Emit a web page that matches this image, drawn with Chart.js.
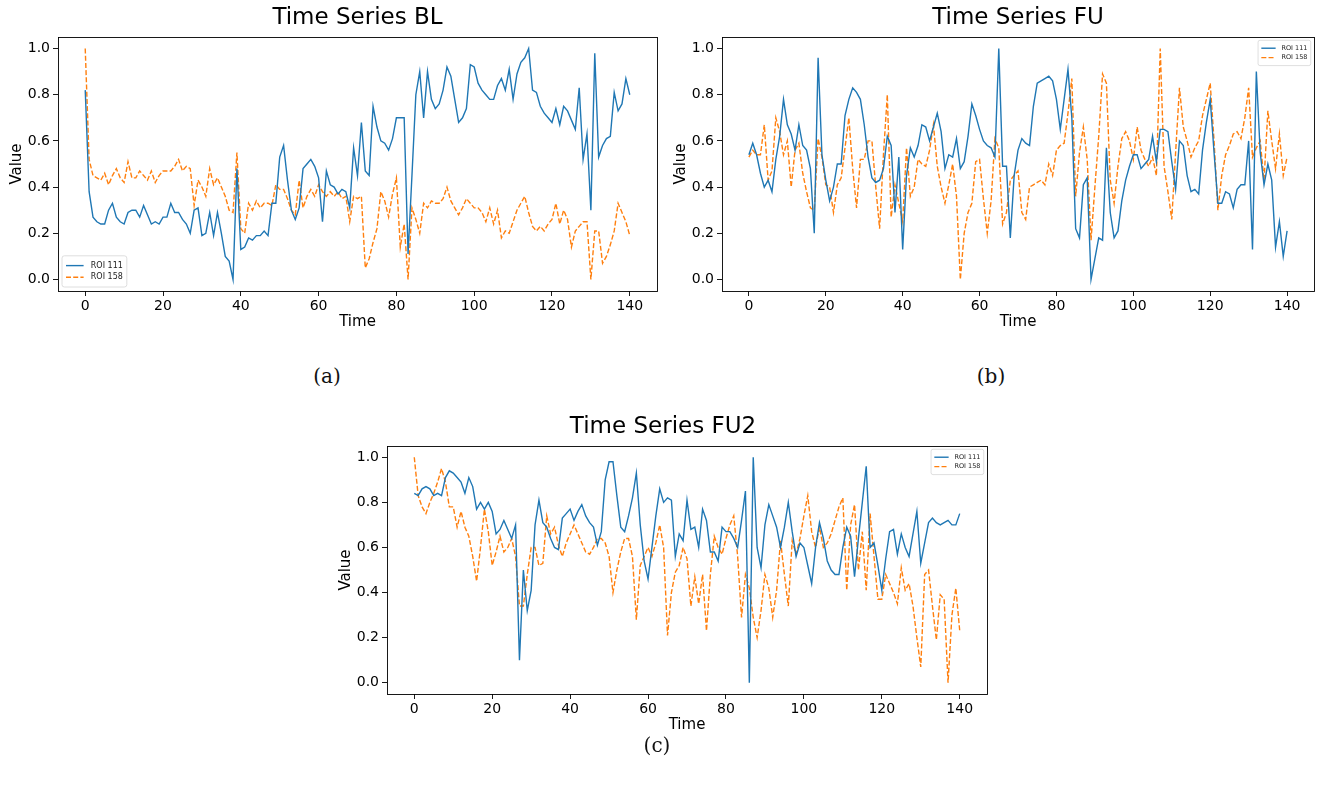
<!DOCTYPE html>
<html>
<head>
<meta charset="utf-8">
<script src="https://cdn.jsdelivr.net/npm/chart.js@4.4.1/dist/chart.umd.min.js"></script>
<style>
  body { margin: 0; background: #fff; width: 1317px; height: 788px; position: relative; overflow: hidden; }
  .panel { position: absolute; }
  .cap { position: absolute; font-family: 'DejaVu Serif', serif; font-size: 20px; color: #111; transform: translateX(-50%); }
</style>
</head>
<body>
<div class="panel" style="left:0;top:0;width:670px;height:331px"><canvas id="bl"></canvas></div>
<div class="panel" style="left:664px;top:0;width:653px;height:331px"><canvas id="fu"></canvas></div>
<div class="panel" style="left:329px;top:409px;width:670px;height:325px"><canvas id="fu2"></canvas></div>
<div class="cap" style="left:327px;top:364px">(a)</div>
<div class="cap" style="left:991px;top:364px">(b)</div>
<div class="cap" style="left:657px;top:733px">(c)</div>

<script>
// time index (141 samples) and axis ticks
const steps = Array.from({ length: 141 }, (_, i) => i);
const xTicks = [0, 20, 40, 60, 80, 100, 120, 140];
const yTicks = [0.0, 0.2, 0.4, 0.6, 0.8, 1.0];

// baseline (BL)
const bl111 = [
  0.82,0.38,0.27,0.25,0.24,0.24,0.30,0.33,0.27,0.25,
  0.24,0.29,0.30,0.30,0.27,0.32,0.28,0.24,0.25,0.24,
  0.27,0.27,0.33,0.29,0.29,0.26,0.24,0.20,0.30,0.31,
  0.19,0.20,0.29,0.19,0.29,0.20,0.10,0.08,0.00,0.48,
  0.13,0.14,0.18,0.17,0.19,0.19,0.21,0.19,0.33,0.33,
  0.53,0.58,0.43,0.30,0.26,0.31,0.48,0.50,0.52,0.49,
  0.44,0.25,0.47,0.41,0.40,0.37,0.39,0.38,0.31,0.57,
  0.45,0.68,0.47,0.45,0.75,0.66,0.60,0.59,0.56,0.61,
  0.70,0.70,0.70,0.11,0.45,0.80,0.90,0.70,0.90,0.78,
  0.74,0.76,0.82,0.92,0.88,0.78,0.68,0.70,0.74,0.93,
  0.92,0.85,0.82,0.80,0.78,0.78,0.84,0.87,0.82,0.91,
  0.78,0.89,0.94,0.96,1.00,0.82,0.81,0.75,0.72,0.70,
  0.68,0.74,0.67,0.75,0.73,0.69,0.65,0.83,0.52,0.63,
  0.30,0.98,0.53,0.58,0.61,0.62,0.81,0.73,0.76,0.87,0.80
];
const bl158 = [
  1.00,0.52,0.45,0.44,0.43,0.46,0.41,0.45,0.48,0.44,
  0.42,0.51,0.44,0.44,0.47,0.45,0.43,0.47,0.42,0.45,
  0.47,0.47,0.47,0.49,0.52,0.47,0.49,0.48,0.32,0.43,
  0.40,0.36,0.48,0.41,0.44,0.40,0.36,0.30,0.29,0.55,
  0.22,0.20,0.33,0.30,0.34,0.31,0.33,0.33,0.32,0.41,
  0.39,0.39,0.35,0.30,0.28,0.43,0.31,0.36,0.39,0.36,
  0.41,0.38,0.36,0.38,0.36,0.38,0.35,0.36,0.25,0.36,
  0.35,0.36,0.05,0.09,0.16,0.22,0.38,0.34,0.27,0.37,
  0.44,0.14,0.24,0.00,0.31,0.26,0.20,0.33,0.31,0.34,
  0.33,0.33,0.35,0.40,0.34,0.31,0.28,0.31,0.35,0.33,
  0.31,0.31,0.29,0.25,0.31,0.24,0.30,0.18,0.21,0.20,
  0.25,0.30,0.33,0.36,0.29,0.23,0.21,0.23,0.21,0.24,
  0.26,0.33,0.24,0.30,0.26,0.14,0.21,0.23,0.25,0.25,
  0.00,0.21,0.21,0.07,0.10,0.15,0.21,0.33,0.29,0.25,0.19
];

// follow-up (FU)
const fu111 = [
  0.54,0.59,0.54,0.46,0.40,0.43,0.38,0.52,0.62,0.78,
  0.67,0.63,0.56,0.67,0.58,0.56,0.48,0.20,0.96,0.54,
  0.43,0.34,0.40,0.50,0.50,0.71,0.78,0.83,0.81,0.78,
  0.67,0.53,0.44,0.42,0.43,0.48,0.62,0.58,0.29,0.53,
  0.13,0.45,0.57,0.53,0.58,0.67,0.66,0.60,0.66,0.72,
  0.64,0.48,0.54,0.53,0.61,0.48,0.51,0.62,0.76,0.71,
  0.65,0.60,0.58,0.57,0.53,1.00,0.49,0.49,0.18,0.45,
  0.56,0.61,0.59,0.58,0.75,0.85,0.86,0.87,0.88,0.86,
  0.78,0.65,0.78,0.91,0.70,0.22,0.18,0.41,0.44,0.00,
  0.09,0.18,0.17,0.57,0.29,0.18,0.21,0.34,0.43,0.49,
  0.54,0.54,0.48,0.50,0.52,0.62,0.51,0.65,0.65,0.64,
  0.51,0.39,0.60,0.58,0.45,0.38,0.39,0.37,0.56,0.68,
  0.78,0.55,0.33,0.33,0.38,0.37,0.31,0.39,0.41,0.41,
  0.60,0.13,0.90,0.55,0.41,0.50,0.43,0.14,0.25,0.10,0.21
];
const fu158 = [
  0.53,0.56,0.54,0.54,0.67,0.43,0.47,0.70,0.64,0.54,
  0.60,0.40,0.56,0.59,0.46,0.38,0.31,0.30,0.61,0.53,
  0.41,0.40,0.29,0.41,0.44,0.57,0.70,0.48,0.31,0.52,
  0.52,0.60,0.60,0.40,0.22,0.54,0.80,0.27,0.41,0.33,
  0.25,0.57,0.36,0.40,0.52,0.50,0.49,0.56,0.67,0.49,
  0.40,0.33,0.41,0.50,0.36,0.00,0.20,0.29,0.33,0.51,
  0.52,0.35,0.20,0.34,0.61,0.57,0.24,0.29,0.43,0.45,
  0.47,0.29,0.26,0.40,0.41,0.42,0.43,0.41,0.50,0.45,
  0.56,0.58,0.59,0.72,0.87,0.36,0.55,0.66,0.52,0.17,
  0.40,0.62,0.89,0.85,0.43,0.33,0.49,0.61,0.64,0.60,
  0.52,0.66,0.56,0.52,0.49,0.53,0.45,1.00,0.49,0.38,
  0.26,0.55,0.83,0.66,0.60,0.53,0.57,0.60,0.71,0.78,
  0.85,0.60,0.30,0.45,0.54,0.58,0.63,0.64,0.61,0.70,
  0.83,0.53,0.57,0.60,0.43,0.73,0.60,0.48,0.63,0.45,0.53
];

// second follow-up (FU2)
const fu2_111 = [
  0.84,0.83,0.86,0.87,0.86,0.83,0.84,0.83,0.91,0.94,
  0.93,0.91,0.89,0.84,0.91,0.87,0.77,0.80,0.77,0.80,
  0.76,0.66,0.68,0.72,0.68,0.64,0.70,0.10,0.50,0.32,
  0.41,0.70,0.81,0.71,0.69,0.64,0.60,0.59,0.73,0.75,
  0.77,0.72,0.76,0.79,0.74,0.71,0.69,0.61,0.67,0.90,
  0.98,0.98,0.83,0.69,0.67,0.74,0.82,0.93,0.70,0.54,
  0.46,0.60,0.74,0.86,0.80,0.82,0.81,0.56,0.66,0.63,
  0.81,0.68,0.69,0.60,0.77,0.72,0.58,0.58,0.54,0.69,
  0.67,0.67,0.64,0.60,0.72,0.85,0.00,1.00,0.60,0.51,
  0.70,0.79,0.74,0.69,0.60,0.69,0.80,0.67,0.56,0.62,
  0.60,0.52,0.44,0.60,0.71,0.64,0.54,0.50,0.48,0.48,
  0.60,0.69,0.65,0.47,0.64,0.80,0.96,0.60,0.62,0.52,
  0.41,0.55,0.67,0.68,0.57,0.66,0.60,0.56,0.66,0.76,
  0.53,0.62,0.71,0.73,0.71,0.70,0.71,0.72,0.70,0.70,0.75
];
const fu2_158 = [
  1.00,0.83,0.78,0.75,0.80,0.84,0.89,0.95,0.89,0.78,
  0.78,0.69,0.76,0.69,0.65,0.56,0.45,0.60,0.77,0.67,
  0.52,0.58,0.65,0.58,0.60,0.64,0.56,0.34,0.34,0.48,
  0.60,0.60,0.52,0.53,0.74,0.66,0.69,0.61,0.56,0.62,
  0.66,0.70,0.66,0.62,0.58,0.57,0.60,0.64,0.64,0.62,
  0.56,0.40,0.50,0.58,0.64,0.64,0.56,0.28,0.52,0.56,
  0.60,0.56,0.62,0.70,0.60,0.21,0.40,0.49,0.52,0.60,
  0.55,0.34,0.47,0.35,0.48,0.23,0.48,0.65,0.60,0.57,
  0.64,0.70,0.74,0.56,0.29,0.48,0.42,0.29,0.20,0.32,
  0.48,0.42,0.29,0.41,0.63,0.48,0.34,0.63,0.57,0.64,
  0.74,0.83,0.67,0.60,0.69,0.60,0.62,0.66,0.72,0.78,
  0.82,0.41,0.70,0.79,0.50,0.67,0.41,0.75,0.56,0.37,
  0.37,0.48,0.44,0.40,0.35,0.51,0.41,0.44,0.34,0.20,
  0.07,0.48,0.50,0.34,0.19,0.39,0.37,0.00,0.30,0.42,0.23
];

const BLUE = '#1f77b4', ORANGE = '#ff7f0e';
Chart.defaults.font.family = "'DejaVu Sans', sans-serif";
Chart.defaults.color = '#000';

// full box round the plot area, plus the title over it
const frame = {
  id: 'frame',
  afterDraw(c, args, o) {
    const a = c.chartArea, ctx = c.ctx;
    ctx.save();
    ctx.strokeStyle = '#000'; ctx.lineWidth = 0.9;
    ctx.strokeRect(Math.round(a.left) + 0.5, Math.round(a.top) + 0.5,
      Math.round(a.right - a.left), Math.round(a.bottom - a.top));
    ctx.font = "23px 'DejaVu Sans'";
    ctx.fillStyle = '#000'; ctx.textAlign = 'center'; ctx.textBaseline = 'middle';
    ctx.fillText(o.title, (a.left + a.right) / 2 + (o.dx || 0), a.top - 19);
    ctx.restore();
  }
};

// small boxed legend sitting inside a corner of the plot
const cornerLegend = {
  id: 'cornerLegend',
  afterDraw(c, args, o) {
    const a = c.chartArea, ctx = c.ctx, fs = o.size, sets = c.data.datasets;
    ctx.save();
    ctx.font = fs + "px 'DejaVu Sans'";
    const tw = Math.max(...sets.map(d => ctx.measureText(d.label).width));
    const pad = fs * 0.5, sw = fs * 2.2, gap = fs * 0.9, rowH = fs * 1.45;
    const w = pad * 2 + sw + gap + tw, h = pad * 2 + rowH * sets.length;
    const m = fs * 0.5;
    const x0 = o.at === 'lower left' ? a.left + m : a.right - m - w;
    const y0 = o.at === 'lower left' ? a.bottom - m - h : a.top + m;
    ctx.beginPath();
    ctx.roundRect(x0, y0, w, h, fs * 0.3);
    ctx.fillStyle = 'rgba(255,255,255,0.8)'; ctx.fill();
    ctx.strokeStyle = '#d6d6d6'; ctx.lineWidth = 0.8; ctx.stroke();
    sets.forEach((d, i) => {
      const y = y0 + pad + rowH * (i + 0.5);
      ctx.beginPath();
      ctx.setLineDash(d.borderDash || []);
      ctx.strokeStyle = d.borderColor; ctx.lineWidth = d.borderWidth;
      ctx.moveTo(x0 + pad, y); ctx.lineTo(x0 + pad + sw, y); ctx.stroke();
      ctx.setLineDash([]);
      ctx.fillStyle = '#222'; ctx.textBaseline = 'middle';
      ctx.fillText(d.label, x0 + pad + sw + gap, y);
    });
    ctx.restore();
  }
};

function panel(id, title, s111, s158, padRight, legendAt, legendSize, titleDx) {
  const tickGrid = { drawOnChartArea: false, tickLength: 5, color: '#000', lineWidth: 0.9 };
  return new Chart(document.getElementById(id), {
    type: 'line',
    data: {
      labels: steps,
      datasets: [
        { label: 'ROI 111', data: s111, borderColor: BLUE, borderWidth: 1.4, pointRadius: 0, tension: 0 },
        { label: 'ROI 158', data: s158, borderColor: ORANGE, borderWidth: 1.4, borderDash: [5, 2.2], pointRadius: 0, tension: 0 }
      ]
    },
    options: {
      responsive: true, maintainAspectRatio: false, animation: false,
      layout: { padding: { left: 8, right: padRight, top: 37, bottom: 0 } },
      plugins: {
        legend: { display: false }, tooltip: { enabled: false }, title: { display: false },
        frame: { title, dx: titleDx },
        cornerLegend: { at: legendAt, size: legendSize }
      },
      scales: {
        x: {
          type: 'linear', min: -7, max: 147,
          afterFit: s => { s.height = 40; },
          afterBuildTicks: s => { s.ticks = xTicks.map(v => ({ value: v })); },
          ticks: { font: { size: 14 }, padding: 2, maxRotation: 0 },
          grid: tickGrid, border: { display: false },
          title: { display: true, text: 'Time', font: { size: 15 }, padding: 0 }
        },
        y: {
          min: -0.05, max: 1.05,
          afterFit: s => { s.width = 50; },
          afterBuildTicks: s => { s.ticks = yTicks.map(v => ({ value: v })); },
          ticks: { font: { size: 14 }, padding: 3, callback: v => v.toFixed(1) },
          grid: tickGrid, border: { display: false },
          title: { display: true, text: 'Value', font: { size: 15 }, padding: 0 }
        }
      }
    },
    plugins: [frame, cornerLegend]
  });
}

panel('bl', 'Time Series BL', bl111, bl158, 13, 'lower left', 8, 0);
panel('fu', 'Time Series FU', fu111, fu158, 3, 'upper right', 6.5, 0);
panel('fu2', 'Time Series FU2', fu2_111, fu2_158, 12, 'upper right', 6.5, -24);
</script>
</body>
</html>
